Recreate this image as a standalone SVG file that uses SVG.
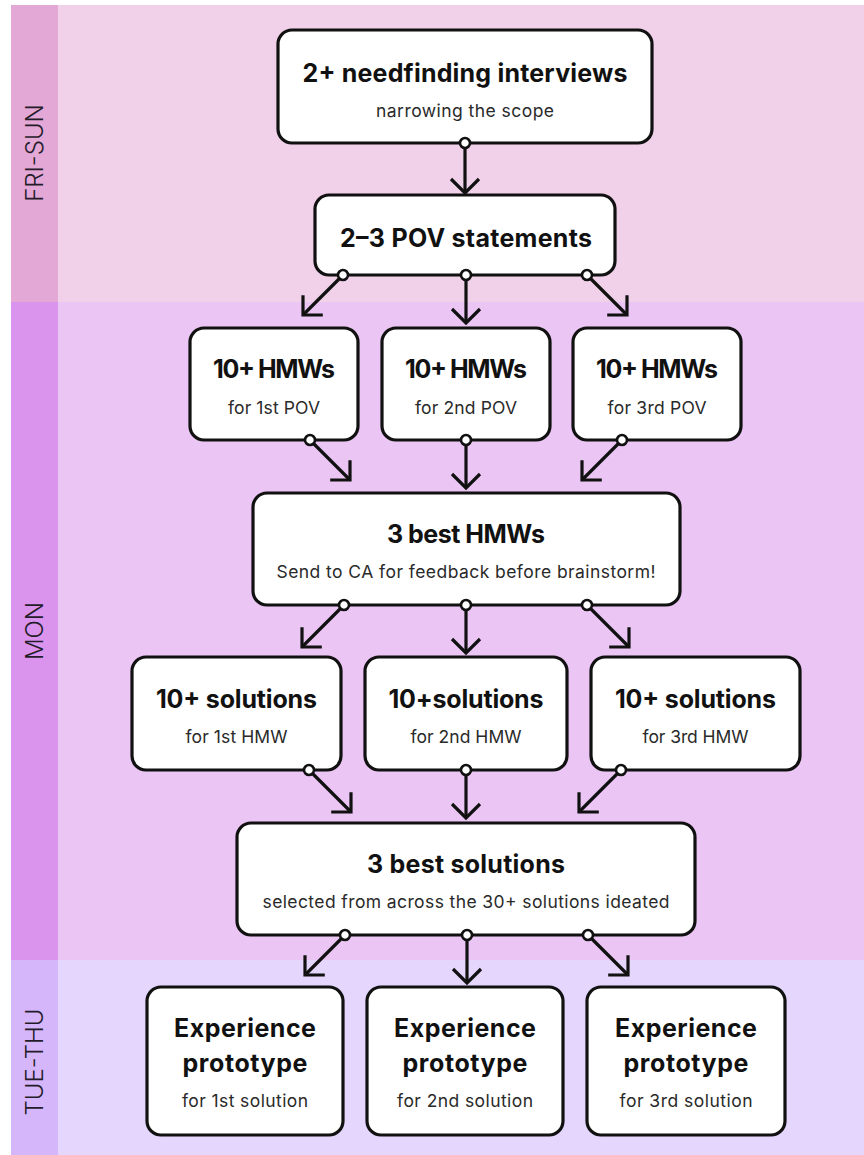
<svg xmlns="http://www.w3.org/2000/svg" width="864" height="1155" viewBox="0 0 864 1155">
<defs>
<style>
.box{fill:#fff;stroke:#111;stroke-width:3.2}
.t{font-family:Inter,"Liberation Sans",sans-serif;font-weight:700;font-size:25px;fill:#111;text-anchor:middle}
.s{font-family:Inter,"Liberation Sans",sans-serif;font-weight:400;font-size:17.5px;fill:#2a2a2a;text-anchor:middle}
.lab{font-family:Inter,"Liberation Sans",sans-serif;font-weight:300;font-size:24px;fill:#241c2a;text-anchor:middle}
.c{fill:none;stroke:#111;stroke-width:3.2;marker-start:url(#dot);marker-end:url(#arr)}
</style>
<marker id="arr" viewBox="-20 -20 40 40" refX="0" refY="0" markerWidth="40" markerHeight="40" markerUnits="userSpaceOnUse" orient="auto" overflow="visible">
<path d="M-14,-14 L0,0 L-14,14" fill="none" stroke="#111" stroke-width="3.2" stroke-linejoin="miter"/>
</marker>
<marker id="dot" viewBox="-10 -10 20 20" refX="0" refY="0" markerWidth="20" markerHeight="20" markerUnits="userSpaceOnUse" orient="auto" overflow="visible">
<circle cx="0" cy="0" r="5" fill="#fff" stroke="#111" stroke-width="2.6"/>
</marker>
</defs>
<rect x="0" y="0" width="864" height="1155" fill="#fff"/>
<g id="bands">
<rect x="11" y="5" width="853" height="297" fill="#f1d1e9"/>
<rect x="11" y="5" width="47" height="297" fill="#e4a8d6"/>
<rect x="11" y="302" width="853" height="658" fill="#ebc6f4"/>
<rect x="11" y="302" width="47" height="658" fill="#da94ee"/>
<rect x="11" y="960" width="853" height="195" fill="#e5d6fd"/>
<rect x="11" y="960" width="47" height="195" fill="#d6b6fb"/>
<text class="lab" x="43" y="153" transform="rotate(-90 43 153)">FRI-SUN</text>
<text class="lab" x="43" y="631" transform="rotate(-90 43 631)">MON</text>
<text class="lab" x="43" y="1062" transform="rotate(-90 43 1062)">TUE-THU</text>
</g>
<g id="n1"><rect class="box" x="278" y="30" width="374" height="113" rx="14"/>
<text class="t" x="465" y="82" textLength="325" lengthAdjust="spacing">2+ needfinding interviews</text>
<text class="s" x="465" y="117" textLength="178" lengthAdjust="spacing">narrowing the scope</text></g>
<g id="n2"><rect class="box" x="315" y="195" width="300" height="80" rx="14"/>
<text class="t" x="466" y="247" textLength="252" lengthAdjust="spacing">2–3 POV statements</text></g>
<g id="hmw1"><rect class="box" x="190" y="328" width="168" height="112" rx="14"/>
<text class="t" x="274" y="378" textLength="122" lengthAdjust="spacing">10+ HMWs</text>
<text class="s" x="274" y="414" textLength="92" lengthAdjust="spacing">for 1st POV</text></g>
<g id="hmw2"><rect class="box" x="382" y="328" width="168" height="112" rx="14"/>
<text class="t" x="466" y="378" textLength="122" lengthAdjust="spacing">10+ HMWs</text>
<text class="s" x="466" y="414" textLength="102" lengthAdjust="spacing">for 2nd POV</text></g>
<g id="hmw3"><rect class="box" x="573" y="328" width="168" height="112" rx="14"/>
<text class="t" x="657" y="378" textLength="122" lengthAdjust="spacing">10+ HMWs</text>
<text class="s" x="657" y="414" textLength="99" lengthAdjust="spacing">for 3rd POV</text></g>
<g id="best-hmws"><rect class="box" x="253" y="493" width="427" height="112" rx="14"/>
<text class="t" x="466" y="543" textLength="158" lengthAdjust="spacing">3 best HMWs</text>
<text class="s" x="466" y="578" textLength="379" lengthAdjust="spacing">Send to CA for feedback before brainstorm!</text></g>
<g id="sol1"><rect class="box" x="132" y="657" width="209" height="113" rx="14"/>
<text class="t" x="236.5" y="708" textLength="161" lengthAdjust="spacing">10+ solutions</text>
<text class="s" x="236.5" y="743" textLength="102" lengthAdjust="spacing">for 1st HMW</text></g>
<g id="sol2"><rect class="box" x="365" y="657" width="202" height="113" rx="14"/>
<text class="t" x="466" y="708" textLength="155" lengthAdjust="spacing">10+solutions</text>
<text class="s" x="466" y="743" textLength="111" lengthAdjust="spacing">for 2nd HMW</text></g>
<g id="sol3"><rect class="box" x="591" y="657" width="209" height="113" rx="14"/>
<text class="t" x="695.5" y="708" textLength="161" lengthAdjust="spacing">10+ solutions</text>
<text class="s" x="695.5" y="743" textLength="106" lengthAdjust="spacing">for 3rd HMW</text></g>
<g id="best-solutions"><rect class="box" x="237" y="823" width="458" height="112" rx="14"/>
<text class="t" x="466" y="873" textLength="198" lengthAdjust="spacing">3 best solutions</text>
<text class="s" x="466" y="908" textLength="407" lengthAdjust="spacing">selected from across the 30+ solutions ideated</text></g>
<g id="proto1"><rect class="box" x="147" y="987" width="196" height="148" rx="14"/>
<text class="t" x="245" y="1037" textLength="142" lengthAdjust="spacing">Experience</text>
<text class="t" x="245" y="1072" textLength="125" lengthAdjust="spacing">prototype</text>
<text class="s" x="245" y="1107" textLength="126" lengthAdjust="spacing">for 1st solution</text></g>
<g id="proto2"><rect class="box" x="367" y="987" width="196" height="148" rx="14"/>
<text class="t" x="465" y="1037" textLength="142" lengthAdjust="spacing">Experience</text>
<text class="t" x="465" y="1072" textLength="125" lengthAdjust="spacing">prototype</text>
<text class="s" x="465" y="1107" textLength="136" lengthAdjust="spacing">for 2nd solution</text></g>
<g id="proto3"><rect class="box" x="587" y="987" width="198" height="148" rx="14"/>
<text class="t" x="686" y="1037" textLength="142" lengthAdjust="spacing">Experience</text>
<text class="t" x="686" y="1072" textLength="125" lengthAdjust="spacing">prototype</text>
<text class="s" x="686" y="1107" textLength="133" lengthAdjust="spacing">for 3rd solution</text></g>
<g id="connectors">
<path class="c" d="M465,143 L465,193"/>
<path class="c" d="M343,275 L303,315"/>
<path class="c" d="M466,275 L466,323"/>
<path class="c" d="M587,275 L627,315"/>
<path class="c" d="M310,440 L350,480"/>
<path class="c" d="M466,440 L466,488"/>
<path class="c" d="M622,440 L582,480"/>
<path class="c" d="M344,605 L302,647"/>
<path class="c" d="M466,605 L466,653"/>
<path class="c" d="M587,605 L629,647"/>
<path class="c" d="M309,770 L351,812"/>
<path class="c" d="M466,770 L466,818"/>
<path class="c" d="M621,770 L579,812"/>
<path class="c" d="M345,935 L305,975"/>
<path class="c" d="M467,935 L467,983"/>
<path class="c" d="M588,935 L628,975"/>
</g>
</svg>
